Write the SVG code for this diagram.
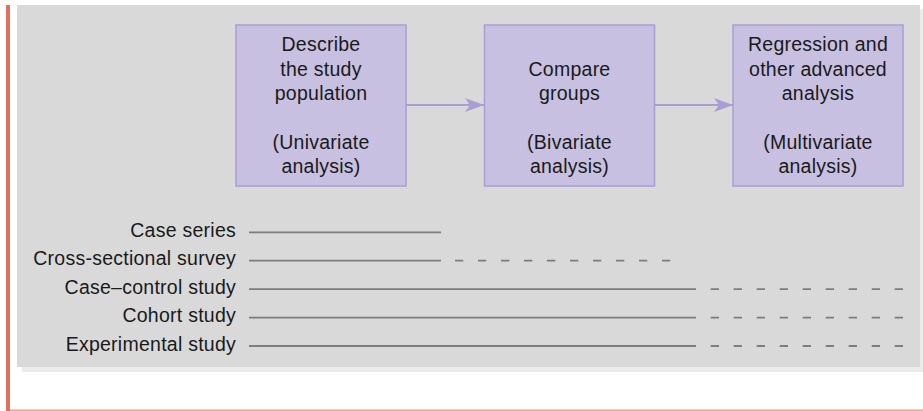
<svg xmlns="http://www.w3.org/2000/svg" width="923" height="411" viewBox="0 0 923 411">
  <style>
    .box { fill: #c8c0e0; stroke: #a99dd3; stroke-width: 1.5; }
    .boxtext { font-family: "Liberation Sans", Arial, sans-serif; font-size: 19.5px; letter-spacing: 0.25px; fill: #1a1a1a; text-anchor: middle; }
    .label { font-family: "Liberation Sans", Arial, sans-serif; font-size: 19.5px; letter-spacing: 0.25px; fill: #1a1a1a; text-anchor: end; }
    .flow { stroke: #a99dd3; stroke-width: 2; fill: none; }
    .solid { stroke: #7d7d7d; stroke-width: 1.8; fill: none; }
    .dash { stroke: #7d7d7d; stroke-width: 1.8; fill: none; stroke-dasharray: 8.3 14.7; }
  </style>
  <defs>
    <marker id="arrowhead" markerUnits="userSpaceOnUse" markerWidth="20" markerHeight="16" refX="19" refY="8" orient="auto">
      <path d="M0,1 L19,8 L0,15 L5,8 Z" fill="#a99dd3"/>
    </marker>
  </defs>

  <!-- page frame -->
  <rect x="0" y="0" width="923" height="411" fill="#ffffff"/>
  <rect x="6" y="5" width="4" height="406" fill="#e07060"/>
  <rect x="10" y="409.5" width="913" height="1.5" fill="#f0a48c"/>

  <!-- panel with soft shadow -->
  <rect x="22" y="9" width="901" height="363" fill="#ebebeb"/>
  <rect x="17" y="5" width="903" height="362" fill="#d8d9d8"/>

  <!-- connectors -->
  <g id="connectors">
    <line class="flow" x1="406" y1="105" x2="484" y2="105" marker-end="url(#arrowhead)"/>
    <line class="flow" x1="655" y1="105" x2="733" y2="105" marker-end="url(#arrowhead)"/>

    <!-- study design ranges -->
    <line class="solid" x1="249" y1="232.3" x2="441" y2="232.3"/>
    <line class="solid" x1="249" y1="260.7" x2="441" y2="260.7"/>
    <line class="dash" x1="455" y1="260.7" x2="672" y2="260.7"/>
    <line class="solid" x1="249" y1="289.2" x2="696" y2="289.2"/>
    <line class="dash" x1="710.7" y1="289.2" x2="903" y2="289.2"/>
    <line class="solid" x1="249" y1="317.6" x2="696" y2="317.6"/>
    <line class="dash" x1="710.7" y1="317.6" x2="903" y2="317.6"/>
    <line class="solid" x1="249" y1="346" x2="696" y2="346"/>
    <line class="dash" x1="710.7" y1="346" x2="903" y2="346"/>
  </g>

  <!-- analysis steps -->
  <g id="node-univariate">
    <rect class="box" x="236" y="25" width="170" height="161"/>
    <text class="boxtext" x="321" y="51">Describe</text>
    <text class="boxtext" x="321" y="75.5">the study</text>
    <text class="boxtext" x="321" y="100">population</text>
    <text class="boxtext" x="321" y="148.5">(Univariate</text>
    <text class="boxtext" x="321" y="173">analysis)</text>
  </g>
  <g id="node-bivariate">
    <rect class="box" x="484.5" y="25" width="170" height="161"/>
    <text class="boxtext" x="569.5" y="75.5">Compare</text>
    <text class="boxtext" x="569.5" y="100">groups</text>
    <text class="boxtext" x="569.5" y="148.5">(Bivariate</text>
    <text class="boxtext" x="569.5" y="173">analysis)</text>
  </g>
  <g id="node-multivariate">
    <rect class="box" x="733" y="25" width="170" height="161"/>
    <text class="boxtext" x="818" y="51">Regression and</text>
    <text class="boxtext" x="818" y="75.5">other advanced</text>
    <text class="boxtext" x="818" y="100">analysis</text>
    <text class="boxtext" x="818" y="148.5">(Multivariate</text>
    <text class="boxtext" x="818" y="173">analysis)</text>
  </g>

  <!-- study design labels -->
  <g id="study-designs">
    <text class="label" x="236" y="237">Case series</text>
    <text class="label" x="236" y="265.3">Cross-sectional survey</text>
    <text class="label" x="236" y="293.8">Case–control study</text>
    <text class="label" x="236" y="322.2">Cohort study</text>
    <text class="label" x="236" y="350.6">Experimental study</text>
  </g>
</svg>
